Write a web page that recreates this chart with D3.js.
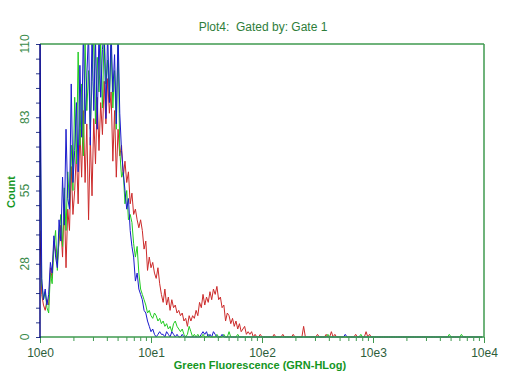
<!DOCTYPE html>
<html><head><meta charset="utf-8">
<script src="https://cdn.jsdelivr.net/npm/d3@7"></script>
<style>body{margin:0;background:#fff}svg{display:block}</style>
</head><body>
<script>
// ---- data ----
const title = "Plot4:  Gated by: Gate 1";
const xLabel = "Green Fluorescence (GRN-HLog)";
const yLabel = "Count";
const xTickLabels = ["10e0","10e1","10e2","10e3","10e4"];
const xTickValues = [1,10,100,1000,10000];
const yTickLabels = ["0","28","55","83","110"];
const yTickValues = [0,27.5,55,82.5,110];
const binsPerDecade = 64;
const totalBins = 256;

const blueCounts = [
 112,22,14,18,12,16,28,24,38,30,
 26,44,36,60,42,78,52,48,95,58,
 70,88,62,102,75,115,80,98,115,72,
 115,85,112,78,115,90,108,115,82,115,
 88,115,92,106,80,115,84,70,62,55,
 48,52,40,34,30,21,24,18,16,14,
 10,9,6,4,2,3,1,0,1,2,
 1,1,0,2,1,0,2,1,0,1,
 0,0,1,0,0,0,0,0,0,0,
 0,0,0,1,2,1,2,0,1,0,
 2,1,0,0,0,1,0,0,0,0
];
const greenCounts = [
 85,20,14,17,11,9,24,20,34,40,
 25,38,46,34,56,40,62,50,72,55,
 90,65,107,72,95,68,110,85,100,78,
 96,115,80,105,92,110,86,115,95,104,
 90,110,86,100,78,112,70,60,62,50,
 55,44,46,43,35,30,34,24,18,16,
 14,12,9,10,8,7,9,8,6,7,
 5,6,4,5,3,4,2,5,6,4,
 3,2,3,1,0,1,4,2,0,1,
 0,1,0,0,1,0,0,1,0,0,
 0,0,1,0,0,0,1,0,0,2,
 0,0,0,0,1,0,0,0,0,0
];
const redCounts = [
 40,16,12,10,14,12,26,22,36,32,
 28,36,42,30,52,26,48,40,64,46,
 55,70,50,78,60,85,58,80,44,75,
 53,82,65,90,70,88,76,96,80,97,
 84,92,66,85,60,78,68,72,60,66,
 58,62,50,54,46,48,44,41,44,40,
 33,36,25,30,26,28,24,22,26,20,
 16,13,18,12,15,10,14,11,12,9,
 10,8,9,6,7,4,8,6,8,7,
 10,8,13,11,16,12,15,13,17,14,
 18,16,19,14,15,11,12,6,9,8,
 5,7,4,6,3,5,2,3,4,1,
 2,1,2,0,1,0,0,1,0,0
];
// sparse events further out: [bin, count]
const blueSparse = [[176,1]];
const greenSparse = [[166,1],[185,1],[236,1],[243,1]];
const redSparse = [[135,1],[140,1],[146,1],[152,4],[160,1],[165,1],[168,2],[170,1],[182,1],[188,2],[190,1]];

// ---- build ----
function fullSeries(counts, sparse){
  const arr = [];
  for(let i=0;i<totalBins;i++) arr.push(i<counts.length?counts[i]:0);
  sparse.forEach(([b,c])=>{arr[b]=c;});
  return arr.map((c,i)=>({x:Math.pow(10,i/binsPerDecade),y:c}));
}
const series = [
  {name:"red", color:"#cc2a2a", data:fullSeries(redCounts, redSparse)},
  {name:"green", color:"#22cc22", data:fullSeries(greenCounts, greenSparse)},
  {name:"blue", color:"#1a1acc", data:fullSeries(blueCounts, blueSparse)}
];

const W=512,H=384;
const L=40,R=484,T=44,B=337;
const axisGreen="#3f9a4f";
const svg=d3.select("body").append("svg").attr("width",W).attr("height",H);

const x=d3.scaleLog().domain([1,10000]).range([L,R]);
const y=d3.scaleLinear().domain([0,110]).range([B,T]);

svg.append("defs").append("clipPath").attr("id","clip")
  .append("rect").attr("x",L).attr("y",T).attr("width",R-L).attr("height",B-T+1);

const line=d3.line().x(d=>x(d.x)).y(d=>y(d.y));
const g=svg.append("g").attr("clip-path","url(#clip)");
series.forEach(s=>{
  g.append("path").datum(s.data).attr("d",line)
   .attr("fill","none").attr("stroke",s.color).attr("stroke-width",1);
});

// x axis
const minorX=[];
for(let d=0;d<4;d++) for(let k=2;k<=9;k++) minorX.push(k*Math.pow(10,d));
const xAxis=d3.axisBottom(x).tickValues(xTickValues).tickSize(6)
  .tickFormat((d,i)=>xTickLabels[i]);
const xa=svg.append("g").attr("transform",`translate(0,${B})`).call(xAxis);
xa.select(".domain").remove();
xa.selectAll(".tick line").attr("stroke",axisGreen);
xa.selectAll(".tick text").attr("fill","#2d5e3a").attr("font-family","Liberation Sans, Arial, sans-serif").attr("font-size",12).attr("dy","0.9em");
const xm=svg.append("g").attr("transform",`translate(0,${B})`).call(d3.axisBottom(x).tickValues(minorX).tickSize(4).tickFormat(""));
xm.select(".domain").remove();
xm.selectAll(".tick line").attr("stroke",axisGreen);

// y axis
const minorY=d3.range(0,21).map(k=>k*5.5);
const ym=svg.append("g").attr("transform",`translate(${L},0)`).call(d3.axisLeft(y).tickValues(minorY).tickSize(4).tickFormat(""));
ym.select(".domain").remove();
ym.selectAll(".tick line").attr("stroke","#2a3a8a");
svg.append("g").selectAll("text").data(yTickValues).join("text")
  .attr("transform",(d)=>`translate(29,${y(d)}) rotate(-90)`)
  .attr("text-anchor","middle")
  .attr("fill","#3a8a4a").attr("font-family","Liberation Sans, Arial, sans-serif").attr("font-size",12)
  .text((d,i)=>yTickLabels[i]);

// frame
svg.append("line").attr("x1",L).attr("x2",R).attr("y1",T).attr("y2",T).attr("stroke",axisGreen).attr("stroke-width",1.5);
svg.append("line").attr("x1",R).attr("x2",R).attr("y1",T).attr("y2",B).attr("stroke",axisGreen).attr("stroke-width",1.5);
svg.append("line").attr("x1",L).attr("x2",R).attr("y1",B).attr("y2",B).attr("stroke",axisGreen).attr("stroke-width",1.5);
svg.append("line").attr("x1",L).attr("x2",L).attr("y1",T).attr("y2",B+1).attr("stroke","#0a0a80").attr("stroke-width",1.5);

// titles
svg.append("text").attr("x",263).attr("y",31).attr("text-anchor","middle")
  .style("white-space","pre")
  .attr("fill","#2e7d3a").attr("font-family","Liberation Sans, Arial, sans-serif").attr("font-size",12).text(title);
svg.append("text").attr("x",260).attr("y",369).attr("text-anchor","middle")
  .attr("fill","#15961f").attr("font-weight","bold").attr("font-family","Liberation Sans, Arial, sans-serif").attr("font-size",11).text(xLabel);
svg.append("text").attr("transform","translate(15,192) rotate(-90)").attr("text-anchor","middle")
  .attr("fill","#15961f").attr("font-weight","bold").attr("font-family","Liberation Sans, Arial, sans-serif").attr("font-size",11).text(yLabel);
</script>
</body></html>
